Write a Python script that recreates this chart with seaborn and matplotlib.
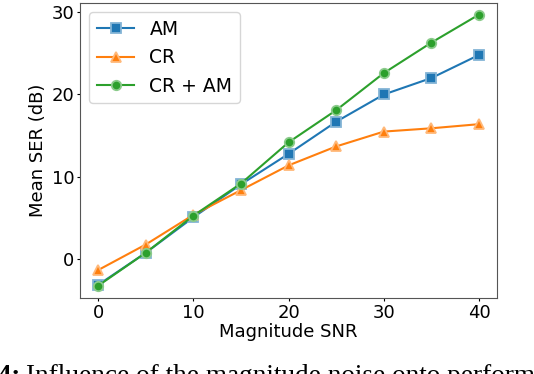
import numpy as np
import pandas as pd
import matplotlib
matplotlib.use("Agg")
import matplotlib.pyplot as plt
import matplotlib.colors as mcolors
import seaborn as sns

# values
snr = [0, 5, 10, 15, 20, 25, 30, 35, 40]
am = [-3.1, 0.8, 5.1, 9.1, 12.8, 16.7, 20.0, 22.0, 24.8]
cr = [-1.3, 1.8, 5.4, 8.4, 11.4, 13.7, 15.5, 15.9, 16.4]
cr_am = [-3.2, 0.8, 5.3, 9.2, 14.2, 18.1, 22.6, 26.3, 29.7]
methods = ["AM", "CR", "CR + AM"]
yticks = [0, 10, 20, 30]
xticks = [0, 10, 20, 30, 40]

df = pd.DataFrame({
    "snr": snr * 3,
    "ser": am + cr + cr_am,
    "method": np.repeat(methods, len(snr)),
})

colors = ["#1f77b4", "#ff7f0e", "#2ca02c"]
palette = dict(zip(methods, colors))
markers = {"AM": "s", "CR": "^", "CR + AM": "o"}

fig = plt.figure(figsize=(5.34, 3.74), dpi=100)
ax = fig.add_axes([0.150, 0.203, 0.781, 0.789])

sns.lineplot(data=df, x="snr", y="ser", hue="method", style="method",
             hue_order=methods, style_order=methods, palette=palette,
             markers=markers, dashes=False, markersize=6.8, linewidth=1.5,
             legend=False, ax=ax)

# lighter marker edges as in the reference
for line, c in zip(ax.lines, colors):
    rgb = np.array(mcolors.to_rgb(c))
    light = rgb + (1 - rgb) * 0.45
    line.set_markeredgecolor(light)
    line.set_markeredgewidth(1.3)

ax.legend(handles=ax.lines[:3], labels=methods, loc="upper left", fontsize=13.5,
          handlelength=2.0)

ax.set_xlim(-1.9, 41.9)
ax.set_ylim(-4.7, 31.1)
ax.set_xticks(xticks)
ax.set_yticks(yticks)
ax.tick_params(labelsize=13, length=2, pad=2)
ax.set_xlabel("Magnitude SNR", fontsize=13, labelpad=1)
ax.set_ylabel("Mean SER (dB)", fontsize=13, labelpad=3.5)
for s in ax.spines.values():
    s.set_color("#555555")

# caption strip from the paper, cut off at the bottom edge
fig.text(20 / 534, -0.024, "Fig. 4:", ha="right", va="baseline",
         fontsize=19.6, family="Liberation Serif", weight="bold")
fig.text(26 / 534, -0.024, "Influence of the magnitude noise onto performance",
         ha="left", va="baseline", fontsize=19.6, family="Liberation Serif")

fig.savefig("out.png", dpi=100)
